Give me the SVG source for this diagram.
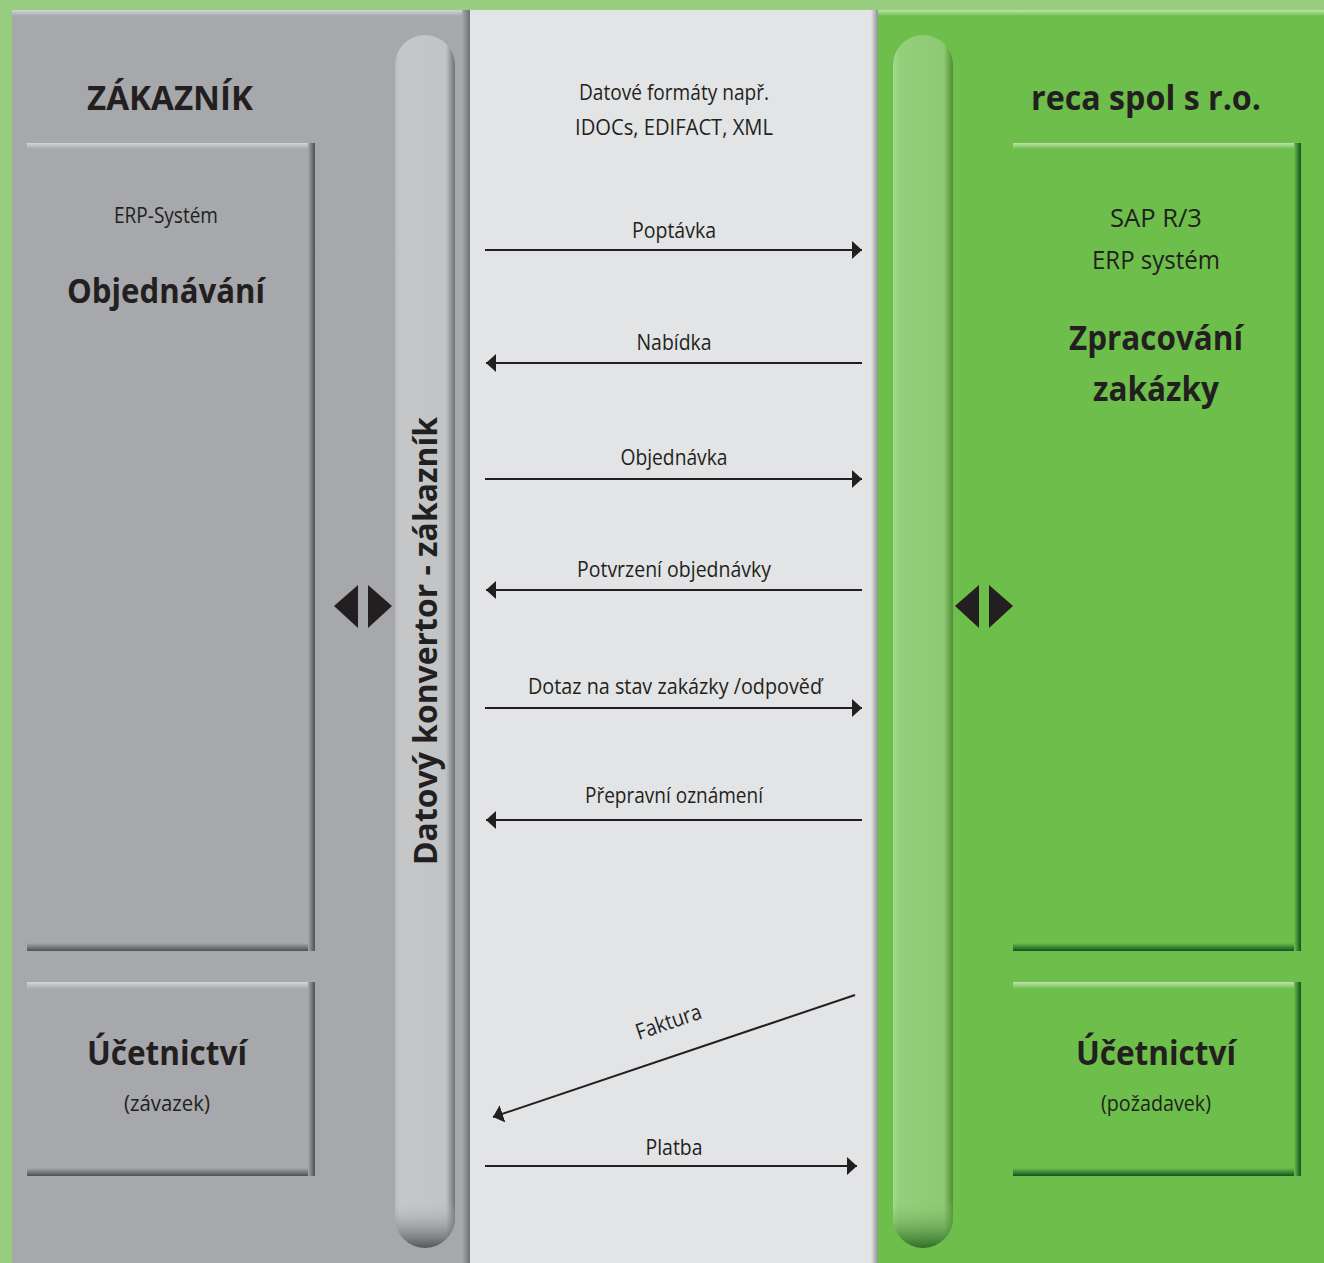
<svg xmlns="http://www.w3.org/2000/svg" width="1324" height="1263" viewBox="0 0 1324 1263">
<style>
.t{font-family:"Open Sans","Noto Sans","Liberation Sans",sans-serif;fill:#231F20;text-anchor:middle}
.b{font-weight:bold}
.ln{stroke:#231F20;stroke-width:2;fill:none}
.tri{fill:#231F20}
</style>
<defs>
<linearGradient id="gTopG" x1="0" y1="0" x2="0" y2="1"><stop offset="0" stop-color="#D4D5D7"/><stop offset="1" stop-color="#A7A8AB"/></linearGradient>
<linearGradient id="gBotG" x1="0" y1="0" x2="0" y2="1"><stop offset="0" stop-color="#A7A8AB"/><stop offset="1" stop-color="#4E4F51"/></linearGradient>
<linearGradient id="gRgtG" x1="0" y1="0" x2="1" y2="0"><stop offset="0" stop-color="#A7A8AB"/><stop offset="1" stop-color="#4E4F51"/></linearGradient>
<linearGradient id="gTopV" x1="0" y1="0" x2="0" y2="1"><stop offset="0" stop-color="#BFE3AE"/><stop offset="1" stop-color="#6DBE4B"/></linearGradient>
<linearGradient id="gBotV" x1="0" y1="0" x2="0" y2="1"><stop offset="0" stop-color="#6DBE4B"/><stop offset="1" stop-color="#0A5520"/></linearGradient>
<linearGradient id="gRgtV" x1="0" y1="0" x2="1" y2="0"><stop offset="0" stop-color="#6DBE4B"/><stop offset="1" stop-color="#0A5520"/></linearGradient>
<linearGradient id="pillG" x1="0" y1="0" x2="1" y2="0"><stop offset="0" stop-color="#B9BABC"/><stop offset="0.08" stop-color="#C6C7C9"/><stop offset="0.85" stop-color="#C2C3C5"/><stop offset="1" stop-color="#6E6F71"/></linearGradient>
<linearGradient id="pillV" x1="0" y1="0" x2="1" y2="0"><stop offset="0" stop-color="#A6D98D"/><stop offset="0.1" stop-color="#96CF7B"/><stop offset="0.85" stop-color="#8FC872"/><stop offset="1" stop-color="#4C8F35"/></linearGradient>
<linearGradient id="pillBotG" x1="0" y1="0" x2="0" y2="1"><stop offset="0" stop-color="#C3C4C6" stop-opacity="0"/><stop offset="1" stop-color="#55565A"/></linearGradient>
<linearGradient id="pillBotV" x1="0" y1="0" x2="0" y2="1"><stop offset="0" stop-color="#93CD76" stop-opacity="0"/><stop offset="1" stop-color="#2F6E25"/></linearGradient>
<linearGradient id="panelEdgeL" x1="0" y1="0" x2="1" y2="0"><stop offset="0" stop-color="#A7A8AB"/><stop offset="1" stop-color="#6F7073"/></linearGradient>
<linearGradient id="panelEdgeM" x1="0" y1="0" x2="1" y2="0"><stop offset="0" stop-color="#E3E4E6"/><stop offset="1" stop-color="#8E8F92"/></linearGradient>
<marker id="ah" viewBox="0 0 10 18" refX="10" refY="9" markerWidth="10" markerHeight="18" markerUnits="userSpaceOnUse" orient="auto"><path d="M0,0 L10,9 L0,18 Z" fill="#231F20"/></marker>
</defs>

<!-- background -->
<rect x="0" y="0" width="1324" height="1263" fill="#96CD7E"/>

<g id="panel-left">
<rect x="12" y="10" width="458" height="1253" fill="#A7A8AB"/>
<rect x="12" y="10" width="458" height="6" fill="url(#gTopG)"/>
<rect x="462" y="10" width="8" height="1253" fill="url(#panelEdgeL)"/>
</g>
<g id="panel-middle">
<rect x="470" y="10" width="408" height="1253" fill="#E3E4E6"/>
<rect x="871" y="10" width="7" height="1253" fill="url(#panelEdgeM)"/>
</g>
<g id="panel-right">
<rect x="878" y="10" width="446" height="1253" fill="#6DBE4B"/>
<rect x="878" y="10" width="446" height="6" fill="url(#gTopV)"/>
</g>

<g id="pill-left">
<rect x="395" y="35" width="60" height="1213" rx="30" fill="url(#pillG)"/>
<path d="M395,1218 A30,30 0 0 0 455,1218 L455,1200 L395,1200 Z" fill="url(#pillBotG)"/>
<text class="t b" font-size="32" transform="translate(437,641) rotate(-90)" textLength="448" lengthAdjust="spacingAndGlyphs">Datový konvertor - zákazník</text>
</g>
<g id="pill-right">
<rect x="893" y="35" width="60" height="1213" rx="30" fill="url(#pillV)"/>
<path d="M893,1218 A30,30 0 0 0 953,1218 L953,1200 L893,1200 Z" fill="url(#pillBotV)"/>
</g>

<g id="title-left"><text class="t b" x="170" y="110" font-size="34" textLength="166" lengthAdjust="spacingAndGlyphs">ZÁKAZNÍK</text></g>
<g id="title-right"><text class="t b" x="1146" y="110" font-size="34" textLength="230" lengthAdjust="spacingAndGlyphs">reca spol s r.o.</text></g>

<g id="box-erp-left">
<rect x="27" y="143" width="288" height="808" fill="#A7A8AB"/>
<rect x="27" y="143" width="288" height="6" fill="url(#gTopG)"/>
<rect x="27" y="943" width="288" height="8" fill="url(#gBotG)"/>
<rect x="308" y="143" width="7" height="808" fill="url(#gRgtG)"/>
<text class="t" x="166" y="223" font-size="21" textLength="104" lengthAdjust="spacingAndGlyphs">ERP-Systém</text>
<text class="t b" x="166" y="303" font-size="34" textLength="198" lengthAdjust="spacingAndGlyphs">Objednávání</text>
</g>
<g id="box-acc-left">
<rect x="27" y="982" width="288" height="194" fill="#A7A8AB"/>
<rect x="27" y="982" width="288" height="7" fill="url(#gTopG)"/>
<rect x="27" y="1168" width="288" height="8" fill="url(#gBotG)"/>
<rect x="308" y="982" width="7" height="194" fill="url(#gRgtG)"/>
<text class="t b" x="167" y="1065" font-size="34" textLength="160" lengthAdjust="spacingAndGlyphs">Účetnictví</text>
<text class="t" x="167" y="1111" font-size="22" textLength="86" lengthAdjust="spacingAndGlyphs">(závazek)</text>
</g>

<g id="box-erp-right">
<rect x="1013" y="143" width="288" height="808" fill="#6DBE4B"/>
<rect x="1013" y="143" width="288" height="6" fill="url(#gTopV)"/>
<rect x="1013" y="943" width="288" height="8" fill="url(#gBotV)"/>
<rect x="1294" y="143" width="7" height="808" fill="url(#gRgtV)"/>
<text class="t" x="1156" y="227" font-size="26" textLength="92" lengthAdjust="spacingAndGlyphs">SAP R/3</text>
<text class="t" x="1156" y="269" font-size="26" textLength="128" lengthAdjust="spacingAndGlyphs">ERP systém</text>
<text class="t b" x="1156" y="350" font-size="34" textLength="174" lengthAdjust="spacingAndGlyphs">Zpracování</text>
<text class="t b" x="1156" y="401" font-size="34" textLength="126" lengthAdjust="spacingAndGlyphs">zakázky</text>
</g>
<g id="box-acc-right">
<rect x="1013" y="982" width="288" height="194" fill="#6DBE4B"/>
<rect x="1013" y="982" width="288" height="7" fill="url(#gTopV)"/>
<rect x="1013" y="1168" width="288" height="8" fill="url(#gBotV)"/>
<rect x="1294" y="982" width="7" height="194" fill="url(#gRgtV)"/>
<text class="t b" x="1156" y="1065" font-size="34" textLength="160" lengthAdjust="spacingAndGlyphs">Účetnictví</text>
<text class="t" x="1156" y="1111" font-size="22" textLength="110" lengthAdjust="spacingAndGlyphs">(požadavek)</text>
</g>

<g id="dbl-left">
<path class="tri" d="M358,585 L334,606 L358,628 Z"/>
<path class="tri" d="M368,585 L392,606 L368,628 Z"/>
</g>
<g id="dbl-right">
<path class="tri" d="M979,585 L955,606 L979,628 Z"/>
<path class="tri" d="M989,585 L1013,606 L989,628 Z"/>
</g>

<g id="formats">
<text class="t" x="674" y="100" font-size="22" textLength="190" lengthAdjust="spacingAndGlyphs">Datové formáty např.</text>
<text class="t" x="674" y="135" font-size="22" textLength="198" lengthAdjust="spacingAndGlyphs">IDOCs, EDIFACT, XML</text>
</g>

<g id="connectors">
<line class="ln" x1="485" y1="250" x2="862" y2="250" marker-end="url(#ah)"/>
<line class="ln" x1="862" y1="363" x2="486" y2="363" marker-end="url(#ah)"/>
<line class="ln" x1="485" y1="479" x2="862" y2="479" marker-end="url(#ah)"/>
<line class="ln" x1="862" y1="590" x2="486" y2="590" marker-end="url(#ah)"/>
<line class="ln" x1="485" y1="708" x2="862" y2="708" marker-end="url(#ah)"/>
<line class="ln" x1="862" y1="820" x2="486" y2="820" marker-end="url(#ah)"/>
<line class="ln" x1="855" y1="995" x2="493" y2="1117" marker-end="url(#ah)"/>
<line class="ln" x1="485" y1="1166" x2="857" y2="1166" marker-end="url(#ah)"/>
<text class="t" x="674" y="238" font-size="22" textLength="84" lengthAdjust="spacingAndGlyphs">Poptávka</text>
<text class="t" x="674" y="350" font-size="22" textLength="75" lengthAdjust="spacingAndGlyphs">Nabídka</text>
<text class="t" x="674" y="465" font-size="22" textLength="107" lengthAdjust="spacingAndGlyphs">Objednávka</text>
<text class="t" x="674" y="577" font-size="22" textLength="194" lengthAdjust="spacingAndGlyphs">Potvrzení objednávky</text>
<text class="t" x="675" y="694" font-size="22" textLength="294" lengthAdjust="spacingAndGlyphs">Dotaz na stav zakázky /odpověď</text>
<text class="t" x="674" y="803" font-size="22" textLength="178" lengthAdjust="spacingAndGlyphs">Přepravní oznámení</text>
<text class="t" transform="translate(671,1029) rotate(-19)" font-size="22" textLength="68" lengthAdjust="spacingAndGlyphs">Faktura</text>
<text class="t" x="674" y="1155" font-size="22" textLength="57" lengthAdjust="spacingAndGlyphs">Platba</text>
</g>
</svg>
